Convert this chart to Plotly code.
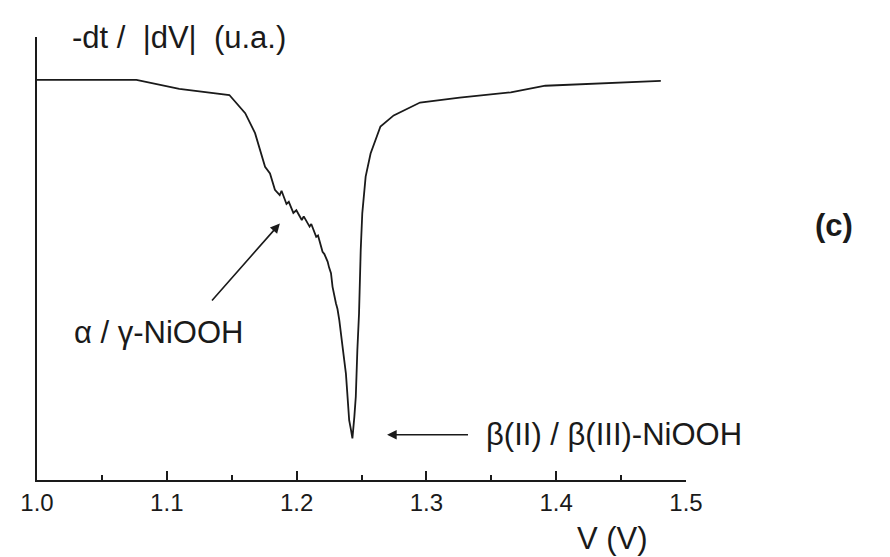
import plotly.graph_objects as go

# Potential (V) and signal -dt/|dV| (arbitrary units, 0-100)
voltage = [1.000, 1.0766, 1.1096, 1.1482, 1.1604, 1.1680, 1.1757, 1.1795, 1.1833,
           1.1870, 1.1884, 1.1922, 1.1940, 1.1975, 1.1998, 1.2040, 1.2055, 1.2100,
           1.2113, 1.2151, 1.2165, 1.2200, 1.2214, 1.2239, 1.2250, 1.2265, 1.2277,
           1.2290, 1.2303, 1.2315, 1.2329, 1.2354, 1.2367, 1.2380, 1.2392, 1.2405,
           1.2418, 1.2430, 1.2445, 1.2456, 1.2468, 1.2481, 1.2494, 1.2506, 1.2532,
           1.2570, 1.2646, 1.2748, 1.2951, 1.3256, 1.3650, 1.3916, 1.4806]
signal = [90.3, 90.3, 88.3, 86.9, 82.8, 78.3, 70.7, 69.2, 65.5,
          64.3, 65.3, 62.3, 62.8, 60.3, 60.9, 58.7, 59.5, 57.2,
          57.8, 54.9, 55.2, 51.5, 51.0, 49.3, 48.0, 46.7, 43.6,
          41.5, 39.9, 38.6, 36.1, 30.1, 27.1, 24.0, 19.0, 13.5,
          11.5, 9.4, 14.3, 18.8, 29.3, 37.6, 51.9, 60.2, 68.5,
          73.7, 79.8, 82.3, 85.2, 86.3, 87.5, 89.0, 90.1]

x_ticks = [1.0, 1.1, 1.2, 1.3, 1.4, 1.5]
x_tick_labels = ["1.0", "1.1", "1.2", "1.3", "1.4", "1.5"]

FONT = "Liberation Sans, Arial, sans-serif"
INK = "#1a1a1a"

fig = go.Figure()
fig.add_trace(go.Scatter(x=voltage, y=signal, mode="lines",
                         line=dict(color=INK, width=1.8), showlegend=False,
                         hoverinfo="skip"))

# page body adds an 8px offset, so the figure is 882x549 with shifted margins
fig.update_layout(
    width=882, height=549,
    margin=dict(l=21.5, r=204.3, t=29, b=77),
    paper_bgcolor="white", plot_bgcolor="white",
    font=dict(family=FONT, color=INK),
    xaxis=dict(range=[1.0, 1.5], tickvals=x_ticks, ticktext=x_tick_labels,
               ticks="inside", ticklen=9, tickwidth=1.5, tickcolor=INK,
               showline=True, linecolor=INK, linewidth=2, showgrid=False,
               zeroline=False, tickfont=dict(size=24, color=INK, family=FONT),
               minor=dict(dtick=0.05, tick0=1.0, ticks="inside", ticklen=5,
                          tickwidth=1.5, tickcolor=INK, showgrid=False)),
    yaxis=dict(range=[0, 100], showline=True, linecolor=INK, linewidth=2,
               showgrid=False, zeroline=False, showticklabels=False, ticks=""),
)

annotations = [
    # y-axis label
    dict(text="-dt /  |dV|  (u.a.)", xref="paper", yref="paper", x=0.2187, y=1.0,
         xanchor="center", yanchor="middle", showarrow=False,
         font=dict(size=31, family=FONT, color=INK)),
    # x-axis label
    dict(text="V (V)", xref="paper", yref="paper", x=0.886, y=-0.131,
         xanchor="center", yanchor="middle", showarrow=False,
         font=dict(size=31, family=FONT, color=INK)),
    # panel label
    dict(text="<b>(c)</b>", xref="paper", yref="paper", x=1.2275, y=0.5756,
         xanchor="center", yanchor="middle", showarrow=False,
         font=dict(size=31, family=FONT, color=INK)),
    # alpha/gamma arrow
    dict(text="", xref="x", yref="y", x=1.1871, y=57.9,
         axref="x", ayref="y", ax=1.1338, ay=40.2, showarrow=True,
         arrowhead=2, arrowsize=1.2, arrowwidth=1.6, arrowcolor=INK),
    dict(text="\u03b1 / \u03b3-NiOOH", xref="x", yref="y", x=1.0937, y=33.2,
         xanchor="center", yanchor="middle", showarrow=False,
         font=dict(size=31, family=FONT, color=INK)),
    # beta arrow
    dict(text="", xref="x", yref="y", x=1.2697, y=10.2,
         axref="x", ayref="y", ax=1.3332, ay=10.2, showarrow=True,
         arrowhead=2, arrowsize=1.2, arrowwidth=1.6, arrowcolor=INK),
    dict(text="\u03b2(II) / \u03b2(III)-NiOOH", xref="x", yref="y", x=1.3447, y=10.2,
         xanchor="left", yanchor="middle", showarrow=False,
         font=dict(size=31, family=FONT, color=INK)),
]
fig.update_layout(annotations=annotations)

fig.write_html("out.html")
